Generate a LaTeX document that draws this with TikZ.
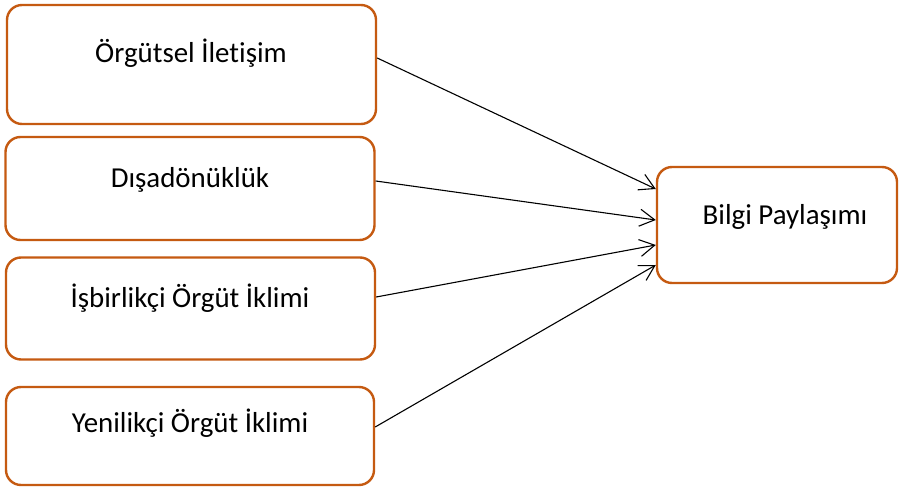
\documentclass[tikz,border=0pt]{standalone}
\usepackage{fontspec}
\setmainfont{Carlito}[Ligatures=NoCommon]
\usetikzlibrary{arrows.meta,calc}
\definecolor{boxorange}{HTML}{C55A11}
\tikzset{
  box/.style={draw=boxorange, line width=2.4bp, rounded corners=15bp, fill=white, inner sep=0pt},
  lbl/.style={font=\fontsize{29}{34}\selectfont, inner sep=0pt, anchor=center},
  conn/.style={draw=black, line width=1.1bp, -{Straight Barb[length=15bp,width=17bp,line width=1.1bp]}}
}
\begin{document}
\begin{tikzpicture}[x=1bp,y=-1bp]
\useasboundingbox[fill=white] (0,0) rectangle (903,487);
\node[box, minimum width=369bp, minimum height=119bp] (b1) at (191.5,64.5) {};
\node[box, minimum width=369bp, minimum height=103bp] (b2) at (190,188.5) {};
\node[box, minimum width=369bp, minimum height=102bp] (b3) at (190.5,308.5) {};
\node[box, minimum width=368bp, minimum height=98bp] (b4) at (190,436) {};
\node[box, minimum width=240bp, minimum height=116bp] (bp) at (777,225) {};
\node[lbl] (t1) at (191,53) {Örgütsel İletişim};
\node[lbl] (t2) at (190,180) {Dışadönüklük};
\node[lbl] (t3) at (190,298) {İşbirlikçi Örgüt İklimi};
\node[lbl] (t4) at (190,423) {Yenilikçi Örgüt İklimi};
\node[lbl] (tp) at (785,217) {Bilgi Paylaşımı};
\draw[conn] ($(b1.east)+(0,-6.5)$) -- ($(bp.west)+(0,-36)$);
\draw[conn] ($(b2.east)+(0,-7.5)$) -- ($(bp.west)+(0,-5)$);
\draw[conn] ($(b3.east)+(0,-11.5)$) -- ($(bp.west)+(0,20)$);
\draw[conn] ($(b4.east)+(0,-9)$) -- ($(bp.west)+(0,40)$);
\end{tikzpicture}
\end{document}
